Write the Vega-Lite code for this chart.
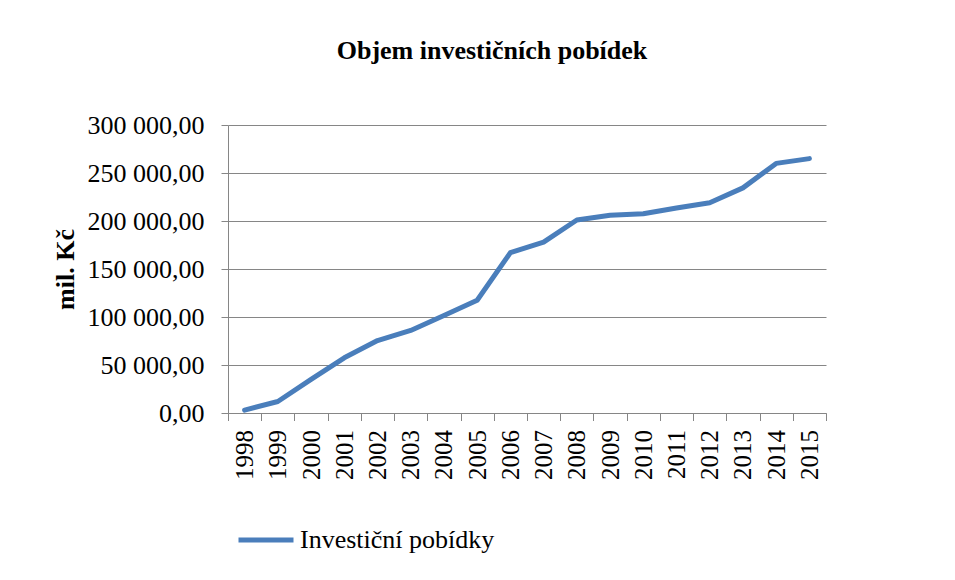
{
  "$schema": "https://vega.github.io/schema/vega-lite/v6.json",
  "width": 598,
  "height": 288,
  "autosize": {"type": "none"},
  "padding": {"left": 228, "top": 125, "right": 129, "bottom": 167},
  "background": "white",
  "title": {
    "text": "Objem investičních pobídek",
    "font": "Liberation Serif",
    "fontSize": 26,
    "fontWeight": "bold",
    "color": "black",
    "anchor": "middle",
    "frame": "group",
    "dx": -35,
    "baseline": "alphabetic",
    "offset": 27
  },
  "data": {
    "values": [
      {"rok": "1998", "hodnota": 3000, "serie": "Investiční pobídky"},
      {"rok": "1999", "hodnota": 12000, "serie": "Investiční pobídky"},
      {"rok": "2000", "hodnota": 35000, "serie": "Investiční pobídky"},
      {"rok": "2001", "hodnota": 57500, "serie": "Investiční pobídky"},
      {"rok": "2002", "hodnota": 75500, "serie": "Investiční pobídky"},
      {"rok": "2003", "hodnota": 86000, "serie": "Investiční pobídky"},
      {"rok": "2004", "hodnota": 101500, "serie": "Investiční pobídky"},
      {"rok": "2005", "hodnota": 117500, "serie": "Investiční pobídky"},
      {"rok": "2006", "hodnota": 167000, "serie": "Investiční pobídky"},
      {"rok": "2007", "hodnota": 178000, "serie": "Investiční pobídky"},
      {"rok": "2008", "hodnota": 201000, "serie": "Investiční pobídky"},
      {"rok": "2009", "hodnota": 206000, "serie": "Investiční pobídky"},
      {"rok": "2010", "hodnota": 207500, "serie": "Investiční pobídky"},
      {"rok": "2011", "hodnota": 213500, "serie": "Investiční pobídky"},
      {"rok": "2012", "hodnota": 219000, "serie": "Investiční pobídky"},
      {"rok": "2013", "hodnota": 234500, "serie": "Investiční pobídky"},
      {"rok": "2014", "hodnota": 260000, "serie": "Investiční pobídky"},
      {"rok": "2015", "hodnota": 265000, "serie": "Investiční pobídky"}
    ]
  },
  "mark": {"type": "line", "strokeWidth": 5, "strokeCap": "round", "strokeJoin": "round"},
  "encoding": {
    "x": {
      "field": "rok",
      "type": "ordinal",
      "scale": {"type": "band", "paddingInner": 0, "paddingOuter": 0},
      "axis": {
        "title": null,
        "labelAngle": -90,
        "labelFont": "Liberation Serif",
        "labelFontSize": 25,
        "labelColor": "black",
        "labelPadding": 9,
        "tickBand": "extent",
        "tickSize": 7.5,
        "tickColor": "#868686",
        "domainColor": "#868686",
        "grid": false
      }
    },
    "y": {
      "field": "hodnota",
      "type": "quantitative",
      "scale": {"domain": [0, 300000], "nice": false},
      "axis": {
        "title": "mil. Kč",
        "titleFont": "Liberation Serif",
        "titleFontSize": 26,
        "titleFontWeight": "bold",
        "titleColor": "black",
        "titlePadding": 9,
        "values": [0, 50000, 100000, 150000, 200000, 250000, 300000],
        "format": ",.2f",
        "labelFont": "Liberation Serif",
        "labelFontSize": 26,
        "labelColor": "black",
        "labelPadding": 17,
        "tickSize": 7,
        "tickColor": "#868686",
        "domainColor": "#868686",
        "gridColor": "#868686",
        "gridOpacity": 1,
        "gridWidth": 1
      }
    },
    "color": {
      "field": "serie",
      "type": "nominal",
      "scale": {"domain": ["Investiční pobídky"], "range": ["#4a7ebb"]},
      "legend": {
        "title": null,
        "orient": "none",
        "legendX": 8,
        "legendY": 385,
        "symbolType": "stroke",
        "symbolSize": 3025,
        "symbolStrokeWidth": 5,
        "labelFont": "Liberation Serif",
        "labelFontSize": 26,
        "labelColor": "black",
        "labelOffset": 4,
        "labelLimit": 400
      }
    }
  },
  "config": {
    "font": "Liberation Serif",
    "locale": {
      "number": {"decimal": ",", "thousands": " ", "grouping": [3], "currency": ["", " Kč"]}
    },
    "view": {"stroke": null},
    "axis": {"domainWidth": 1, "tickWidth": 1},
    "legend": {"labelFont": "Liberation Serif"}
  }
}
